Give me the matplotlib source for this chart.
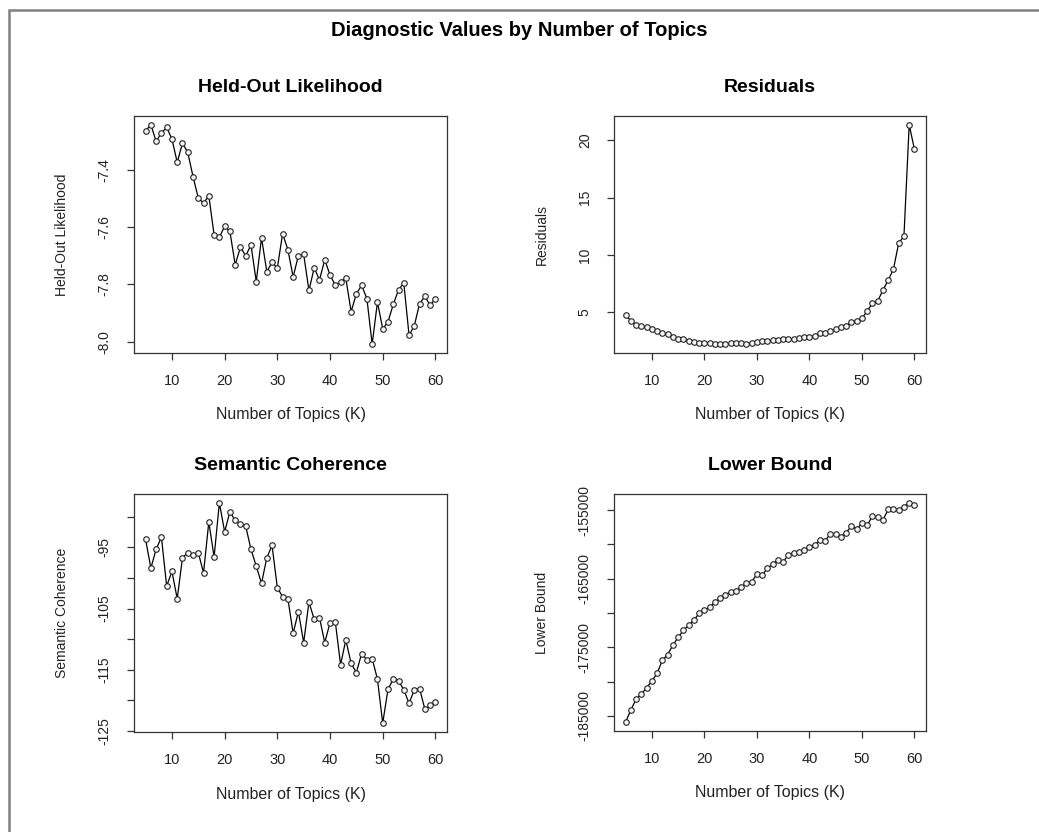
import matplotlib
matplotlib.use("Agg")
import matplotlib.pyplot as plt
from matplotlib.patches import Rectangle

plt.rcParams['font.family'] = ['Liberation Sans', 'DejaVu Sans']

# number of topics
K = list(range(5, 61))

heldout = [-7.263, -7.242, -7.300, -7.271, -7.251, -7.292, -7.373, -7.307, -7.338, -7.423,
           -7.498, -7.516, -7.490, -7.627, -7.635, -7.597, -7.615, -7.731, -7.670, -7.700,
           -7.662, -7.790, -7.637, -7.755, -7.723, -7.743, -7.623, -7.678, -7.774, -7.699,
           -7.695, -7.821, -7.742, -7.784, -7.714, -7.767, -7.803, -7.790, -7.778, -7.895,
           -7.833, -7.803, -7.850, -8.009, -7.862, -7.955, -7.931, -7.870, -7.819, -7.795,
           -7.978, -7.944, -7.867, -7.842, -7.873, -7.850]

residuals = [4.77, 4.28, 3.90, 3.81, 3.70, 3.55, 3.38, 3.18, 3.09, 2.86,
             2.72, 2.66, 2.54, 2.46, 2.37, 2.37, 2.31, 2.25, 2.23, 2.25,
             2.31, 2.34, 2.34, 2.25, 2.37, 2.40, 2.54, 2.51, 2.57, 2.60,
             2.66, 2.69, 2.72, 2.80, 2.89, 2.89, 2.95, 3.18, 3.24, 3.38,
             3.53, 3.76, 3.82, 4.19, 4.25, 4.48, 5.12, 5.78, 5.98, 6.94,
             7.80, 8.76, 11.04, 11.62, 21.33, 19.19]

semcoh = [-93.70, -98.38, -95.33, -93.32, -101.32, -98.93, -103.39, -96.70, -95.88, -96.21,
          -95.88, -99.15, -90.82, -96.59, -87.71, -92.45, -89.18, -90.60, -91.14, -91.52,
          -95.33, -98.06, -100.89, -96.70, -94.68, -101.60, -103.06, -103.39, -109.05, -105.51,
          -110.58, -103.94, -106.77, -106.49, -110.58, -107.31, -107.15, -114.17, -110.14, -113.95,
          -115.48, -112.37, -113.41, -113.19, -116.56, -123.75, -118.20, -116.56, -116.78, -118.31,
          -120.48, -118.31, -118.09, -121.46, -120.81, -120.27]

lbound = [-185918, -184131, -182585, -181812, -180894, -179928, -178817, -176884, -176063, -174710,
          -173551, -172536, -171812, -171039, -170073, -169590, -169155, -168430, -167851, -167367,
          -166884, -166788, -166256, -165628, -165435, -164372, -164469, -163502, -162874, -162246,
          -162536, -161522, -161184, -161087, -160797, -160314, -160072, -159348, -159493, -158430,
          -158527, -158865, -158285, -157319, -157802, -156836, -157222, -155870, -156015, -156449,
          -154903, -154807, -155000, -154517, -153937, -154324]

W, H = 1039, 832
fig = plt.figure(figsize=(W / 100, H / 100), dpi=100)

# outer gray frame
fig.patches.append(Rectangle((9 / W, -0.05), 1.1, 1.05 - 10 / H, transform=fig.transFigure,
                             fill=False, edgecolor='#808080', linewidth=1.8))

fig.text(0.5, 1 - 30 / H, "Diagnostic Values by Number of Topics", ha='center', va='center',
         fontsize=14.5, fontweight='bold')


def rect(l, t, r, b):
    return [l / W, 1 - b / H, (r - l) / W, (b - t) / H]


panels = [
    (rect(134, 116, 447, 353), heldout, "Held-Out Likelihood", "Held-Out Likelihood",
     [-8.0, -7.8, -7.6, -7.4], ["-8.0", "-7.8", "-7.6", "-7.4"]),
    (rect(614, 116, 926, 353), residuals, "Residuals", "Residuals",
     [5, 10, 15, 20], ["5", "10", "15", "20"]),
    (rect(134, 494, 447, 732), semcoh, "Semantic Coherence", "Semantic Coherence",
     [-125, -120, -115, -110, -105, -100, -95, -90],
     ["-125", "", "-115", "", "-105", "", "-95", ""]),
    (rect(614, 494, 926, 731), lbound, "Lower Bound", "Lower Bound",
     [-185000, -180000, -175000, -170000, -165000, -160000, -155000],
     ["-185000", "", "-175000", "", "-165000", "", "-155000"]),
]

for pos, vals, title, ylab, yt, ytl in panels:
    ax = fig.add_axes(pos)
    ax.plot(K, vals, color='black', linewidth=0.9, marker='o', markersize=4.0,
            markerfacecolor='#f4f4f4', markeredgecolor='#222222', markeredgewidth=0.8)
    lo, hi = min(vals), max(vals)
    pad = (hi - lo) * 0.04
    ax.set_ylim(lo - pad, hi + pad)
    ax.set_xlim(5 - 55 * 0.04, 60 + 55 * 0.04)
    ax.set_xticks([10, 20, 30, 40, 50, 60])
    ax.set_yticks(yt)
    ax.set_yticklabels(ytl, rotation=90, va='center', fontsize=10)
    for s in ax.spines.values():
        s.set_linewidth(0.9)
        s.set_color('#333333')
    ax.tick_params(axis='both', direction='out', length=5, width=0.9, color='#333333',
                   labelcolor='#222222')
    ax.tick_params(axis='x', pad=10, labelsize=10.5)
    ax.tick_params(axis='y', pad=11)
    ax.set_title(title, fontsize=14, fontweight='bold', pad=17)
    ax.set_xlabel("Number of Topics (K)", fontsize=11.5, color='#222222')
    ax.xaxis.set_label_coords(0.5, -62 / (pos[3] * H))
    ax.xaxis.label.set_va('center')
    ax.set_ylabel(ylab, fontsize=10, color='#222222')
    ax.yaxis.set_label_coords(-72 / (pos[2] * W), 0.5)
    ax.yaxis.label.set_va('center')

fig.savefig("out.png", dpi=100)
